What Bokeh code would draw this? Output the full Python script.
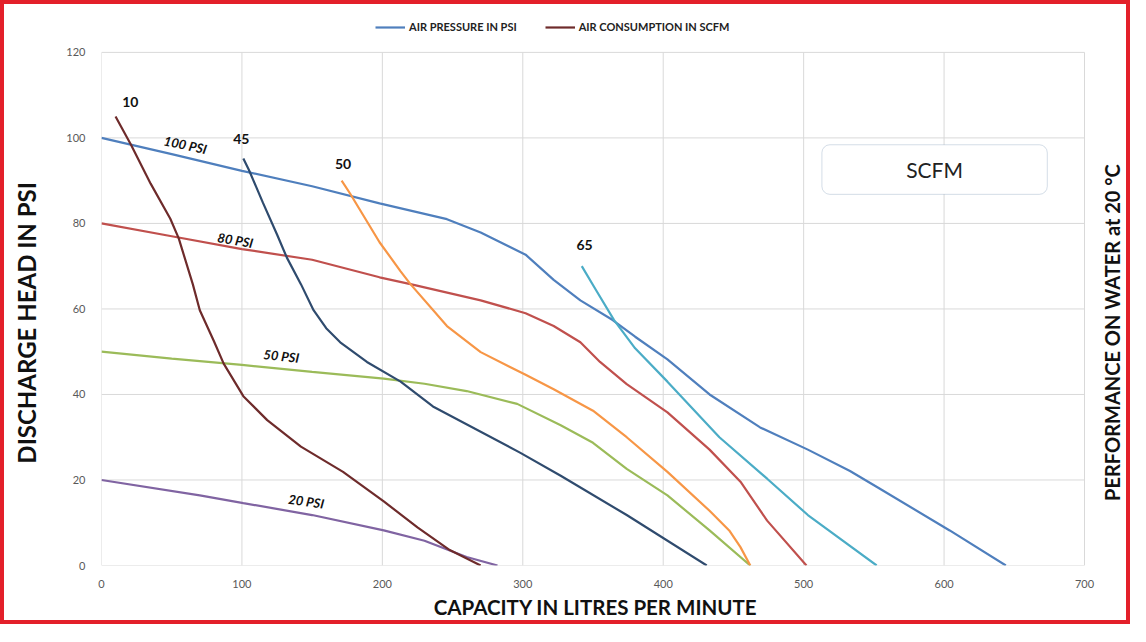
import math
from bokeh.plotting import figure
from bokeh.models import (Range1d, FixedTicker, Label, Legend, LegendItem, BoxAnnotation)
from bokeh.embed import file_html
from bokeh.resources import INLINE

# ---------------- data ----------------
psi100_x = [0, 50, 100, 150, 198, 246, 270, 302, 322, 341, 364, 380, 403, 433, 469, 503, 533, 554, 604, 644]
psi100_y = [100, 96.2, 92.3, 88.7, 84.7, 81.0, 77.9, 72.7, 66.8, 62, 57.4, 53.5, 48.2, 40, 32.3, 27.1, 22.1, 18, 8.2, 0]

psi80_x = [0, 50, 100, 150, 198, 220, 270, 302, 322, 341, 355, 374, 403, 433, 455, 474, 502]
psi80_y = [80, 77, 74, 71.5, 67.4, 65.8, 62, 59, 56, 52.2, 47.6, 42.4, 35.8, 27.1, 19.6, 10.5, 0]

psi50_x = [0, 50, 100, 150, 201, 230, 260, 296, 327, 350, 374, 403, 433, 462]
psi50_y = [50, 48.4, 46.9, 45.3, 43.7, 42.5, 40.8, 37.8, 32.8, 28.7, 22.6, 16.4, 8.2, 0]

psi20_x = [0, 70, 101, 150, 201, 230, 260, 282]
psi20_y = [20, 16.4, 14.6, 11.8, 8.2, 5.8, 2.0, 0]

scfm10_x = [10, 21, 35, 49, 55, 65, 70, 80, 87, 101, 118, 142, 172, 201, 225, 248, 270]
scfm10_y = [105, 98.4, 89.3, 81.1, 76.5, 65.8, 59.7, 52.5, 47.2, 39.6, 34, 27.8, 21.9, 15, 8.9, 3.6, 0]

scfm45_x = [101, 105, 115, 125, 132, 142, 151, 160, 170, 189, 213, 236, 298, 327, 374, 431]
scfm45_y = [95.2, 92.5, 84.8, 77.4, 72, 65.8, 59.7, 55.5, 52.2, 47.6, 43, 37.2, 26.4, 21, 11.8, 0]

scfm50_x = [171, 177, 198, 213, 220, 246, 270, 302, 322, 350, 374, 403, 433, 447, 455, 462]
scfm50_y = [90, 87, 75.6, 68.8, 65.8, 56, 49.9, 44.6, 41.2, 36.2, 30, 21.9, 12.8, 8.2, 4.3, 0]

scfm65_x = [342, 352, 365, 380, 403, 440, 474, 503, 552]
scfm65_y = [70, 64.5, 57.4, 50.8, 43, 30, 20.3, 11.8, 0]

x_ticks = [0, 100, 200, 300, 400, 500, 600, 700]
y_ticks = [0, 20, 40, 60, 80, 100, 120]

psi_labels = ["100 PSI", "80 PSI", "50 PSI", "20 PSI"]
scfm_labels = ["10", "45", "50", "65"]

legend_labels = ["AIR PRESSURE IN PSI", "AIR CONSUMPTION IN SCFM"]
x_title = "CAPACITY IN LITRES PER MINUTE"
y_title = "DISCHARGE HEAD IN PSI"
right_title = "PERFORMANCE ON WATER at 20 \u00b0C"
box_text = "SCFM"

# ---------------- figure ----------------
FONT = "Lato"
NB = "\u00a0"
p = figure(width=1130, height=624, output_backend="svg", toolbar_location=None,
           x_range=Range1d(0, 735.6), y_range=Range1d(0, 131.2),
           min_border_left=97, min_border_right=0, min_border_top=0, min_border_bottom=63)
p.styles = {"border": "4px solid #e3202a"}
p.outline_line_color = None
p.background_fill_color = "white"
p.border_fill_color = "white"
p.xgrid.visible = False
p.ygrid.visible = False

for ax in (p.xaxis[0], p.yaxis[0]):
    ax.major_tick_line_color = None
    ax.minor_tick_line_color = None
    ax.axis_line_color = None
    ax.major_label_text_font = FONT
    ax.major_label_text_font_size = "11px"
    ax.major_label_text_color = "#595959"
    ax.axis_label_text_font = FONT
    ax.axis_label_text_font_style = "bold"
    ax.axis_label_text_color = "#111111"
p.xaxis.major_label_standoff = 8
p.yaxis.major_label_standoff = 10
p.xaxis.ticker = FixedTicker(ticks=x_ticks)
p.yaxis.ticker = FixedTicker(ticks=y_ticks)
p.xaxis.axis_label = x_title + NB * 9
p.xaxis.axis_label_text_font_size = "20.5px"
p.xaxis.axis_label_standoff = 4
p.yaxis.axis_label = y_title + NB * 13
p.yaxis.axis_label_text_font_size = "24px"
p.yaxis.axis_label_standoff = 22

# grid lines bounded by the tick arrays
GRID = "#d9d9d9"
p.segment(x0=[x_ticks[0]] * len(y_ticks), x1=[x_ticks[-1]] * len(y_ticks),
          y0=y_ticks, y1=y_ticks, line_color=GRID, line_width=1)
p.segment(x0=x_ticks, x1=x_ticks, y0=[y_ticks[0]] * len(x_ticks),
          y1=[y_ticks[-1]] * len(x_ticks), line_color=GRID, line_width=1)

LW = 2.2
r100 = p.line(psi100_x, psi100_y, line_color="#4f7fbd", line_width=LW)
p.line(psi80_x, psi80_y, line_color="#c0504d", line_width=LW)
p.line(psi50_x, psi50_y, line_color="#9bbb59", line_width=LW)
p.line(psi20_x, psi20_y, line_color="#8064a2", line_width=LW)
r10 = p.line(scfm10_x, scfm10_y, line_color="#6e2b2b", line_width=LW)
p.line(scfm45_x, scfm45_y, line_color="#2f4b6e", line_width=LW)
p.line(scfm50_x, scfm50_y, line_color="#f79646", line_width=LW)
p.line(scfm65_x, scfm65_y, line_color="#4bacc6", line_width=LW)

# PSI labels
psi_pos = [(59.7, 98.4, -12), (95.3, 76.1, -10), (128, 49, -6), (145.8, 15, -8)]
for t, (x, y, a) in zip(psi_labels, psi_pos):
    p.add_layout(Label(x=x, y=y, text=t, angle=math.radians(a), text_align="center",
                       text_baseline="middle", text_font=FONT, text_font_size="13px",
                       text_font_style="bold italic", text_color="#111111"))

num_pos = [(20.5, 108.4), (99.6, 99.8), (172, 94), (344, 75)]
for t, (x, y) in zip(scfm_labels, num_pos):
    p.add_layout(Label(x=x, y=y, text=t, text_align="center", text_baseline="middle",
                       text_font=FONT, text_font_size="14px", text_font_style="bold",
                       text_color="#111111"))

# SCFM box
p.add_layout(BoxAnnotation(left=513, right=673.5, top=98.4, bottom=86.8,
                           fill_color="white", fill_alpha=1.0,
                           line_color="#6f8fb0", line_width=1, border_radius=8))
p.add_layout(Label(x=593.2, y=92.6, text=box_text, text_align="center", text_baseline="middle",
                   text_font=FONT, text_font_size="21px", text_color="#222222"))

# right-hand title (inside the extended frame)
p.add_layout(Label(x=719.5, y=54.5, text=right_title, angle=math.pi / 2, text_align="center",
                   text_baseline="middle", text_font=FONT, text_font_size="20px",
                   text_font_style="bold", text_color="#111111"))

legend = Legend(items=[LegendItem(label=legend_labels[0], renderers=[r100]),
                       LegendItem(label=legend_labels[1], renderers=[r10])],
                orientation="horizontal", location=(272, 530),
                label_text_font=FONT, label_text_font_size="11px", label_text_font_style="bold",
                label_text_color="#222222", glyph_width=30, glyph_height=12, spacing=28,
                padding=2, margin=0, label_standoff=4,
                border_line_alpha=0, background_fill_alpha=0)
p.add_layout(legend)

open("out.html", "w").write(file_html(p, INLINE))
